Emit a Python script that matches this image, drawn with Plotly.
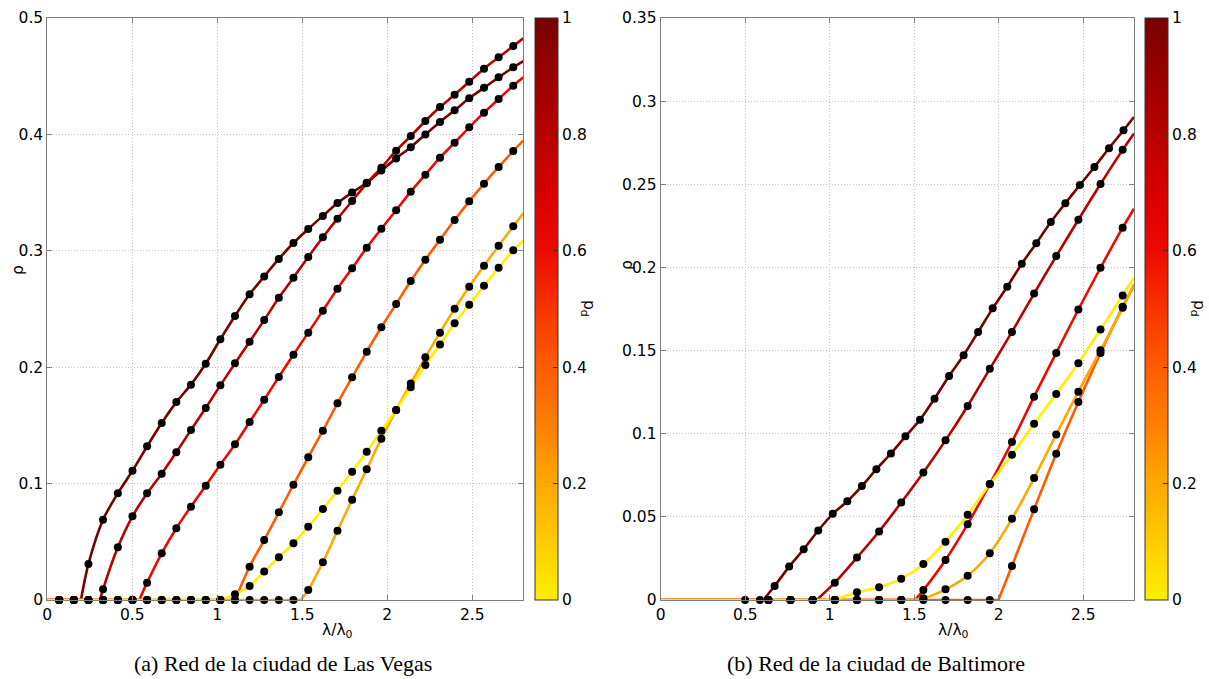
import plotly.graph_objects as go

# ---------------- DATA ----------------
pd_values = [1.0, 0.8, 0.6, 0.4, 0.2, 0.0]

# (a) Las Vegas
x_lv = [0.070, 0.156, 0.242, 0.328, 0.415, 0.501, 0.587, 0.673, 0.759, 0.845,
        0.932, 1.018, 1.104, 1.190, 1.276, 1.362, 1.448, 1.535, 1.621, 1.707,
        1.793, 1.879, 1.965, 2.052, 2.138, 2.224, 2.310, 2.396, 2.482, 2.569,
        2.655, 2.741]
lv_pd10 = [0, 0, 0.031, 0.069, 0.0917, 0.111, 0.132, 0.152, 0.170, 0.185,
           0.203, 0.224, 0.244, 0.2626, 0.278, 0.293, 0.3067, 0.3187, 0.330, 0.341,
           0.350, 0.3585, 0.369, 0.3794, 0.389, 0.400, 0.4107, 0.4207, 0.431, 0.440,
           0.449, 0.4576]
lv_pd08 = [0, 0, 0, 0.0092, 0.0453, 0.0719, 0.0917, 0.1085, 0.1269, 0.146,
           0.165, 0.1844, 0.2033, 0.2219, 0.2405, 0.2597, 0.2769, 0.2947, 0.3116, 0.3276,
           0.3428, 0.358, 0.3714, 0.386, 0.3986, 0.4115, 0.4235, 0.434, 0.4453, 0.4565,
           0.4662, 0.4759]
lv_pd06 = [0, 0, 0, 0, 0, 0, 0.0149, 0.0401, 0.0616, 0.0802,
           0.0982, 0.1163, 0.1337, 0.1529, 0.1721, 0.1916, 0.2108, 0.2297, 0.2486, 0.2675,
           0.285, 0.3027, 0.319, 0.3348, 0.3508, 0.3654, 0.380, 0.3929, 0.4061, 0.4187,
           0.4304, 0.4419]
lv_pd04 = [0, 0, 0, 0, 0, 0, 0, 0, 0, 0,
           0, 0, 0, 0.0286, 0.0515, 0.0753, 0.0991, 0.1226, 0.1455, 0.169,
           0.1913, 0.2133, 0.2343, 0.2543, 0.274, 0.2924, 0.3095, 0.3265, 0.3425, 0.3577,
           0.372, 0.3857]
lv_pd02 = [0, 0, 0, 0, 0, 0, 0, 0, 0, 0,
           0, 0, 0, 0, 0, 0, 0, 0.0086, 0.0324, 0.0596,
           0.0862, 0.1123, 0.1386, 0.1632, 0.1861, 0.2085, 0.2297, 0.2503, 0.2692, 0.2872,
           0.3044, 0.321]
lv_pd00 = [0, 0, 0, 0, 0, 0, 0, 0, 0, 0,
           0, 0, 0.0049, 0.012, 0.0244, 0.0367, 0.0487, 0.063, 0.0782, 0.0939,
           0.1102, 0.1274, 0.1455, 0.1632, 0.1827, 0.2019, 0.2196, 0.2377, 0.2537, 0.270,
           0.2855, 0.3004]
lv_onset = [0.198, 0.310, 0.541, 1.104, 1.490, 1.018]
lv_end = [0.463, 0.4825, 0.449, 0.3946, 0.3322, 0.3087]

# (b) Baltimore
x_bal_a = [0.499, 0.587, 0.674, 0.760, 0.846, 0.932, 1.018, 1.104, 1.190, 1.276,
           1.362, 1.448, 1.534, 1.620, 1.706, 1.792, 1.878, 1.964, 2.050, 2.136,
           2.222, 2.308, 2.394, 2.480, 2.566, 2.652, 2.738]
x_bal_b = [0.637, 0.768, 0.899, 1.030, 1.161, 1.292, 1.423, 1.554, 1.685, 1.816,
           1.947, 2.078, 2.209, 2.340, 2.471, 2.602, 2.733]
bal_pd10 = [0, 0, 0.0084, 0.0201, 0.0305, 0.0418, 0.0518, 0.0594, 0.0685, 0.0787,
            0.0881, 0.0984, 0.1084, 0.1211, 0.1347, 0.1472, 0.1612, 0.1754, 0.1884, 0.2022,
            0.2146, 0.2273, 0.2386, 0.2496, 0.2604, 0.2717, 0.2825]
bal_pd08 = [0, 0, 0, 0.0104, 0.0255, 0.0412, 0.0586, 0.0767, 0.096, 0.1167,
            0.139, 0.1612, 0.1843, 0.2068, 0.2287, 0.2502, 0.2707]
bal_pd06 = [0, 0, 0, 0, 0, 0, 0, 0.006, 0.0241, 0.0456,
            0.0697, 0.095, 0.1223, 0.1486, 0.1747, 0.1998, 0.2239]
bal_pd04 = [0, 0, 0, 0, 0, 0, 0, 0, 0, 0,
            0, 0.0205, 0.0546, 0.088, 0.1191, 0.1486, 0.1763]
bal_pd02 = [0, 0, 0, 0, 0, 0, 0, 0.001, 0.0064, 0.0146,
            0.0281, 0.0488, 0.0733, 0.0996, 0.1253, 0.1502, 0.1757]
bal_pd00 = [0, 0, 0, 0, 0.0046, 0.0077, 0.0128, 0.0217, 0.0351, 0.0512,
            0.0697, 0.0873, 0.106, 0.1239, 0.1424, 0.1627, 0.1831]
bal_onset = [0.607, 0.923, 1.505, 1.998, 1.460, 1.030]
bal_end = [0.2905, 0.2805, 0.2353, 0.189, 0.190, 0.1938]

x_max = 2.8
x_ticks = [0, 0.5, 1, 1.5, 2, 2.5]
x_ticktext = ["0", "0.5", "1", "1.5", "2", "2.5"]
y_ticks_lv = [0, 0.1, 0.2, 0.3, 0.4, 0.5]
y_ticktext_lv = ["0", "0.1", "0.2", "0.3", "0.4", "0.5"]
y_ticks_bal = [0, 0.05, 0.1, 0.15, 0.2, 0.25, 0.3, 0.35]
y_ticktext_bal = ["0", "0.05", "0.1", "0.15", "0.2", "0.25", "0.3", "0.35"]
cb_ticks = [0, 0.2, 0.4, 0.6, 0.8, 1]
cb_ticktext = ["0", "0.2", "0.4", "0.6", "0.8", "1"]
captions = ["(a) Red de la ciudad de Las Vegas", "(b) Red de la ciudad de Baltimore"]

# ---------------- STYLE ----------------
W, H = 1209, 679
colorscale = [[0.0, "#FFEE00"], [0.1, "#FFCC00"], [0.2, "#FFA800"], [0.3, "#FF8000"],
              [0.4, "#FF5C00"], [0.5, "#F83400"], [0.6, "#EC0A00"], [0.7, "#D80000"],
              [0.8, "#B80000"], [0.9, "#9A0000"], [1.0, "#780000"]]


def hex2rgb(h):
    h = h.lstrip("#")
    return tuple(int(h[i:i + 2], 16) for i in (0, 2, 4))


def cmap(v):
    for (a, ca), (b, cb) in zip(colorscale[:-1], colorscale[1:]):
        if a <= v <= b:
            t = 0 if b == a else (v - a) / (b - a)
            r1, g1, b1 = hex2rgb(ca)
            r2, g2, b2 = hex2rgb(cb)
            return "rgb(%d,%d,%d)" % (round(r1 + (r2 - r1) * t), round(g1 + (g2 - g1) * t),
                                      round(b1 + (b2 - b1) * t))
    return colorscale[-1][1]


def px_x(p):
    return p / W


def px_y(p):
    return 1 - p / H


fig = go.Figure()

panels = [
    dict(xs=[x_lv] * 6, ys=[lv_pd10, lv_pd08, lv_pd06, lv_pd04, lv_pd02, lv_pd00],
         onset=lv_onset, end=lv_end, xa="x", ya="y", ca="coloraxis"),
    dict(xs=[x_bal_a] + [x_bal_b] * 5,
         ys=[bal_pd10, bal_pd08, bal_pd06, bal_pd04, bal_pd02, bal_pd00],
         onset=bal_onset, end=bal_end, xa="x2", ya="y2", ca="coloraxis2"),
]

for pnl in panels:
    # lines
    for i, pdv in enumerate(pd_values):
        col = cmap(pdv)
        xs, ys = pnl["xs"][i], pnl["ys"][i]
        on = pnl["onset"][i]
        fig.add_trace(go.Scatter(x=[0, on], y=[0, 0], mode="lines",
                                 line=dict(color=col, width=2.6),
                                 xaxis=pnl["xa"], yaxis=pnl["ya"], showlegend=False,
                                 hoverinfo="skip"))
        rx = [on] + [xv for xv, yv in zip(xs, ys) if xv > on and yv > 0] + [x_max]
        ry = [0] + [yv for xv, yv in zip(xs, ys) if xv > on and yv > 0] + [pnl["end"][i]]
        fig.add_trace(go.Scatter(x=rx, y=ry, mode="lines",
                                 line=dict(color=col, width=2.6, shape="spline", smoothing=0.8),
                                 xaxis=pnl["xa"], yaxis=pnl["ya"], showlegend=False,
                                 hoverinfo="skip"))
    # markers
    for i, pdv in enumerate(pd_values):
        fig.add_trace(go.Scatter(x=pnl["xs"][i], y=pnl["ys"][i], mode="markers",
                                 marker=dict(color="black", size=8),
                                 xaxis=pnl["xa"], yaxis=pnl["ya"], showlegend=False,
                                 cliponaxis=False))
    # colorbar carrier
    fig.add_trace(go.Scatter(x=[None], y=[None], mode="markers",
                             marker=dict(color=[0.5], coloraxis=pnl["ca"]),
                             xaxis=pnl["xa"], yaxis=pnl["ya"], showlegend=False))

tick_font = dict(family="DejaVu Sans", size=15.5, color="black")
axis_common = dict(showgrid=True, gridcolor="#c4c4c4", griddash="1px,2px", gridwidth=1,
                   showline=True, linecolor="#7f7f7f", linewidth=1, mirror="ticks",
                   ticks="inside", ticklen=5, tickcolor="#7f7f7f", zeroline=False,
                   tickfont=tick_font)

ydom = [px_y(600), px_y(18)]
fig.update_layout(
    width=W, height=H,
    margin=dict(l=0, r=0, t=0, b=0, autoexpand=False),
    paper_bgcolor="white", plot_bgcolor="white",
    xaxis=dict(domain=[px_x(47.3), px_x(523.3)], range=[0, x_max], tickvals=x_ticks,
               ticktext=x_ticktext, anchor="y", **axis_common),
    yaxis=dict(domain=ydom, range=[0, 0.5], tickvals=y_ticks_lv, ticktext=y_ticktext_lv,
               anchor="x", **axis_common),
    xaxis2=dict(domain=[px_x(660.7), px_x(1134)], range=[0, x_max], tickvals=x_ticks,
                ticktext=x_ticktext, anchor="y2", **axis_common),
    yaxis2=dict(domain=ydom, range=[0, 0.35], tickvals=y_ticks_bal, ticktext=y_ticktext_bal,
                anchor="x2", **axis_common),
)

for name, xleft in (("coloraxis", 535.3), ("coloraxis2", 1145.3)):
    fig.update_layout(**{name: dict(
        colorscale=colorscale, cmin=0, cmax=1,
        colorbar=dict(x=px_x(xleft), xanchor="left", y=(ydom[0] + ydom[1]) / 2,
                      yanchor="middle", len=582, lenmode="pixels", thickness=23,
                      thicknessmode="pixels", outlinecolor="#333333", outlinewidth=1,
                      ticks="inside", ticklen=5, tickcolor="#333333",
                      tickvals=cb_ticks, ticktext=cb_ticktext, tickfont=tick_font,
                      xpad=0, ypad=0))})

label_font = dict(family="DejaVu Sans", size=15.5, color="black")
annotations = []
for xc, yc in ((18, 270), (627, 265)):
    annotations.append(dict(x=px_x(xc), y=px_y(yc), xref="paper", yref="paper",
                            xanchor="center", yanchor="middle",
                            text="ρ", textangle=-90, showarrow=False, font=label_font))
for xc in (338, 953):
    annotations.append(dict(x=px_x(xc), y=px_y(631), xref="paper", yref="paper",
                            xanchor="center", yanchor="middle",
                            text="λ/λ<sub>0</sub>", showarrow=False, font=label_font))
for xc in (588, 1198):
    annotations.append(dict(x=px_x(xc), y=px_y(308), xref="paper", yref="paper",
                            xanchor="center", yanchor="middle",
                            text="p<sub>d</sub>", textangle=90, showarrow=False,
                            font=label_font))
for xc, txt in zip((283, 876), captions):
    annotations.append(dict(x=px_x(xc), y=px_y(663), xref="paper", yref="paper",
                            xanchor="center", yanchor="middle",
                            text=txt, showarrow=False,
                            font=dict(family="Liberation Serif", size=22, color="black")))
fig.update_layout(annotations=annotations)

fig.write_html("out.html", config={"displayModeBar": False},
               post_script="document.body.style.margin='0';document.body.style.padding='0';")
